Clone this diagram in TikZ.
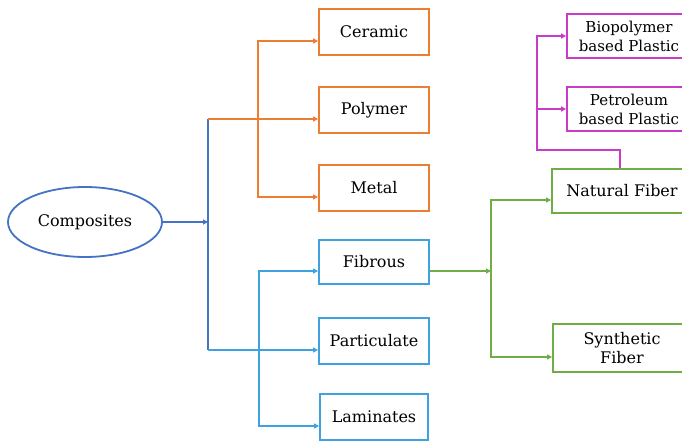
\documentclass[tikz,border=0pt]{standalone}
\usepackage{fontspec}
\setmainfont{DejaVu Serif}
\usetikzlibrary{shapes.geometric,arrows.meta}

\definecolor{orangeline}{HTML}{ED7D31}
\definecolor{blueline}{HTML}{4472C4}
\definecolor{skyline}{HTML}{3FA2DE}
\definecolor{greenline}{HTML}{70AD47}
\definecolor{magentaline}{HTML}{C83CC8}

\begin{document}
\begin{tikzpicture}[x=1pt,y=-1pt,
  font=\fontsize{16}{19.5}\selectfont,
  box/.style={draw, rectangle, line width=1.8pt, inner sep=0pt, align=center},
  link/.style={line width=1.8pt, -{Triangle[length=5pt,width=5pt]}},
  trunkline/.style={line width=1.8pt}]

            \def\drop{9pt}

            % Page frame (boxes on the right run past the edge)
            \useasboundingbox (0,0) rectangle (682,441);
            \clip (0,0) rectangle (682,441);

            % Root
            \node[ellipse, draw=blueline, line width=1.8pt, minimum width=154pt, minimum height=70pt] (comp) at (85,222) {Composites};

            % Matrix based
            \node[box, draw=orangeline, minimum width=110pt, minimum height=46pt] (ceramic) at (374,32) {Ceramic};
            \node[box, draw=orangeline, minimum width=110pt, minimum height=46pt] (polymer) at (374,110) {Polymer};
            \node[box, draw=orangeline, minimum width=110pt, minimum height=46pt] (metal) at (374,188) {Metal};

            % Reinforcement based
            \node[box, draw=skyline, minimum width=110pt, minimum height=44pt] (fibrous) at (374,262) {Fibrous};
            \node[box, draw=skyline, minimum width=110pt, minimum height=46pt] (particulate) at (374,341) {Particulate};
            \node[box, draw=skyline, minimum width=108pt, minimum height=46pt] (laminates) at (374,417) {Laminates};

            % Fibres
            \node[box, draw=greenline, minimum width=140pt, minimum height=44pt] (natural) at (622,191) {Natural Fiber};
            \node[box, draw=greenline, minimum width=138pt, minimum height=48pt] (synthetic) at (622,348) {Synthetic\\Fiber};

            % Plastics
            \node[box, draw=magentaline, font=\fontsize{15}{19}\selectfont, minimum width=124pt, minimum height=44pt] (biopolymer) at (629,36) {Biopolymer\\based Plastic};
            \node[box, draw=magentaline, font=\fontsize{15}{19}\selectfont, minimum width=124pt, minimum height=44pt] (petroleum) at (629,109) {Petroleum\\based Plastic};

            % Entry points, a little below the box centres
            \coordinate (ceramic in) at ([yshift=-\drop]ceramic.west);
            \coordinate (polymer in) at ([yshift=-\drop]polymer.west);
            \coordinate (metal in) at ([yshift=-\drop]metal.west);
            \coordinate (fibrous in) at ([yshift=-\drop]fibrous.west);
            \coordinate (fibrous out) at ([yshift=-\drop]fibrous.east);
            \coordinate (particulate in) at ([yshift=-\drop]particulate.west);
            \coordinate (laminates in) at ([yshift=-\drop]laminates.west);
            \coordinate (natural in) at ([yshift=-\drop]natural.west);
            \coordinate (synthetic in) at ([yshift=-\drop]synthetic.west);

            % Branch points
            \coordinate (trunk) at (208,222);
            \coordinate (obranch) at (258,119);
            \coordinate (bbranch) at (259,350);
            \coordinate (gbranch) at (491,271);
            \coordinate (mbranch) at (537,150);

            % Main trunk
            \draw[link, blueline] (comp.east) -- (trunk);
            \draw[trunkline, blueline] (trunk |- polymer in) -- (trunk |- particulate in);

            % Orange branch
            \draw[link, orangeline] (trunk |- polymer in) -- (polymer in);
            \draw[link, orangeline] (obranch |- metal in) |- (ceramic in);
            \draw[link, orangeline] (obranch |- ceramic in) |- (metal in);

            % Light blue branch
            \draw[link, skyline] (trunk |- particulate in) -- (particulate in);
            \draw[link, skyline] (bbranch |- laminates in) |- (fibrous in);
            \draw[link, skyline] (bbranch |- fibrous in) |- (laminates in);

            % Green branch
            \draw[link, greenline] (fibrous out) -- (gbranch |- fibrous out);
            \draw[link, greenline] (gbranch |- synthetic in) |- (natural in);
            \draw[link, greenline] (gbranch |- natural in) |- (synthetic in);

            % Magenta branch
            \draw[link, magentaline] ([xshift=-2pt]natural.north) |- (mbranch) |- (biopolymer.west);
            \draw[link, magentaline] (mbranch |- petroleum.west) -- (petroleum.west);
        \end{tikzpicture}
\end{document}
